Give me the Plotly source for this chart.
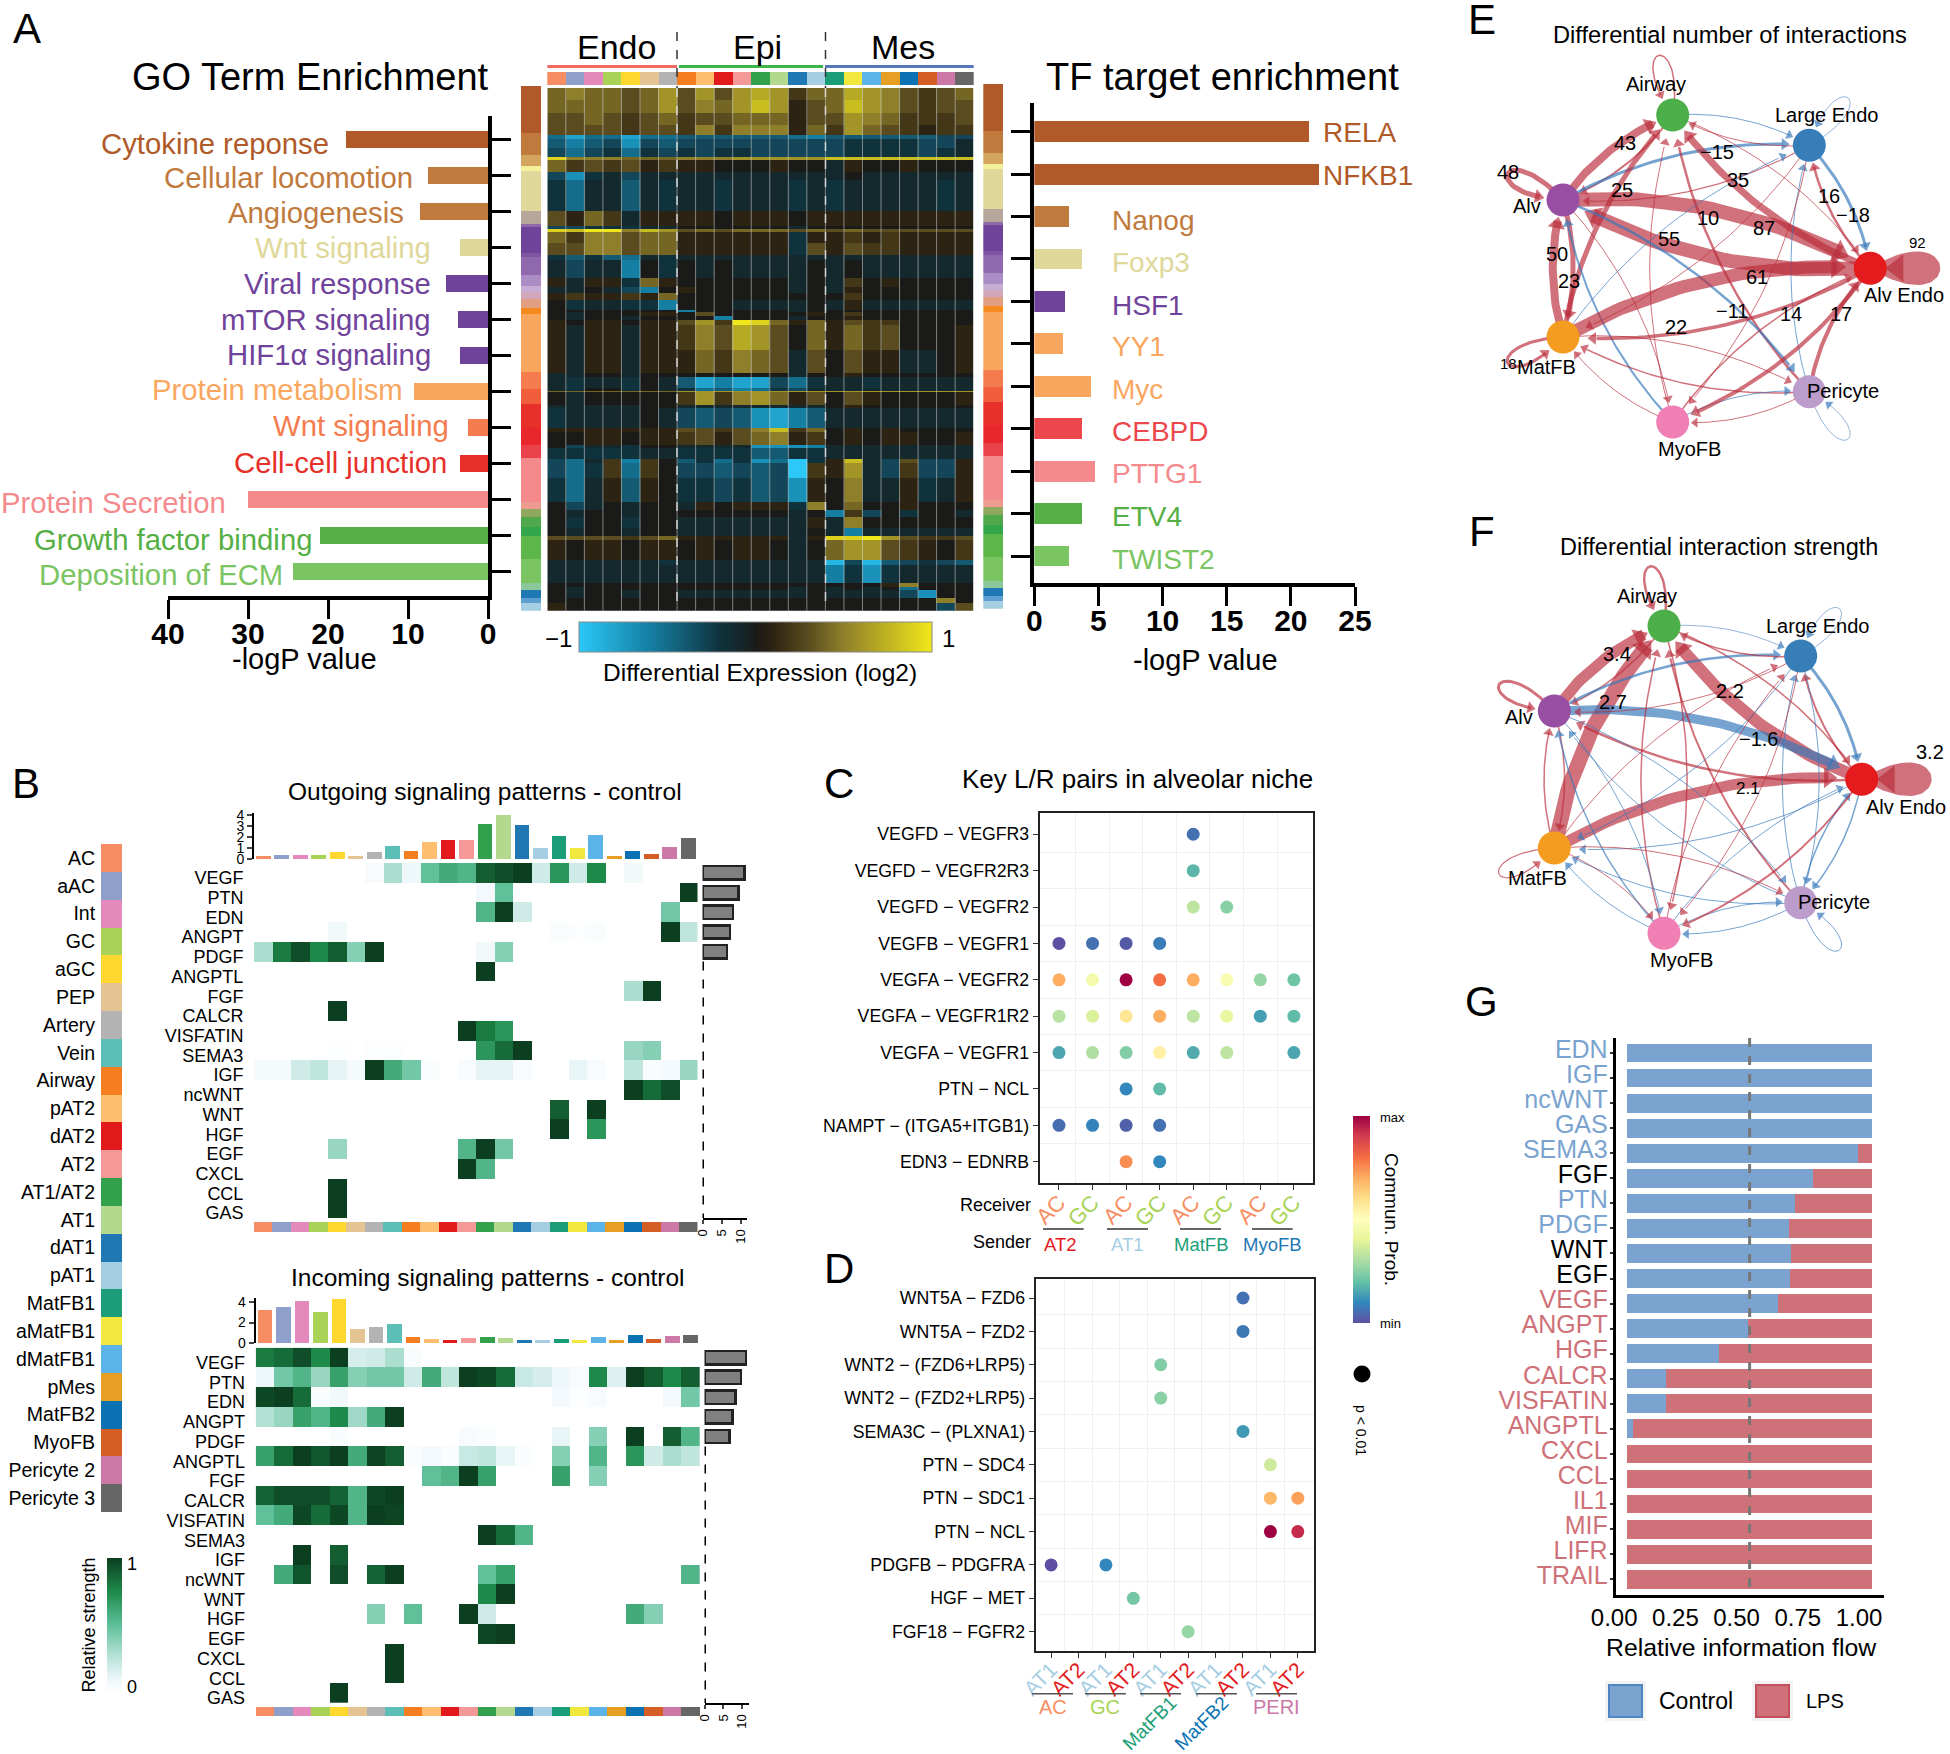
import math
import numpy as np
import plotly.graph_objects as go

W, H = 1950, 1754
FONT = 'Liberation Sans'

# ---------- panel A data ----------
go_terms = ['Cytokine reponse', 'Cellular locomotion', 'Angiogenesis', 'Wnt signaling', 'Viral response',
            'mTOR signaling', 'HIF1α signaling', 'Protein metabolism', 'Wnt signaling', 'Cell-cell junction',
            'Protein Secretion', 'Growth factor binding', 'Deposition of ECM']
go_logp = [17.8, 7.5, 8.5, 3.5, 5.2, 3.7, 3.5, 9.2, 2.5, 3.5, 30, 21, 24.4]
go_colors = ['#AF5A28', '#C07A3E', '#C07A3E', '#E0D89A', '#70439B', '#70439B', '#70439B', '#F9A75F',
             '#F47C4E', '#E8302B', '#F58A8C', '#55AF45', '#7AC562']

tf_names = ['RELA', 'NFKB1', 'Nanog', 'Foxp3', 'HSF1', 'YY1', 'Myc', 'CEBPD', 'PTTG1', 'ETV4', 'TWIST2']
tf_logp = [21.4, 22.2, 2.7, 3.7, 2.4, 2.2, 4.4, 3.7, 4.7, 3.7, 2.7]
tf_colors = ['#AF5A28', '#AF5A28', '#C07A3E', '#E0D89A', '#70439B', '#F9A75F', '#F9A75F', '#EB474C',
             '#F58A8C', '#55AF45', '#7AC562']

cell_types = ['AC', 'aAC', 'Int', 'GC', 'aGC', 'PEP', 'Artery', 'Vein', 'Airway', 'pAT2', 'dAT2', 'AT2',
              'AT1/AT2', 'AT1', 'dAT1', 'pAT1', 'MatFB1', 'aMatFB1', 'dMatFB1', 'pMes', 'MatFB2', 'MyoFB',
              'Pericyte 2', 'Pericyte 3']
cell_colors = ['#F78E63', '#8E9FCB', '#E389BB', '#A8D356', '#FED82F', '#E5C494', '#B3B3B3', '#5BBFB8',
               '#F57F20', '#FDBF6F', '#E31A1C', '#F59898', '#33A14B', '#B2D98E', '#1F78B4', '#A6CEE3',
               '#1B9E77', '#F1E83E', '#5CB3E8', '#E69F22', '#0A72B2', '#D55E27', '#CC79A7', '#666666']
heat_col_colors = cell_colors[:7] + cell_colors[8:]

strip_heights = [46.7, 22.3, 11, 4.7, 40.3, 13, 2.7, 26, 4, 18.3, 11, 5.7, 7.6, 9, 6, 58, 17, 15, 22.4,
                 18.3, 12.7, 44, 7.3, 7.7, 10, 9, 23.6, 23.4, 7.3, 8.3, 5, 7.4]
strip_colors = ['#AF5A28', '#C07A3E', '#D4A55E', '#F5F09A', '#E0D89A', '#B7A79A', '#8F6AA8', '#70439B',
                '#7D55A3', '#9068AE', '#AB8CC4', '#C5ADD6', '#D2A8B8', '#E29E80', '#F68A1F', '#F9A75F',
                '#F47C4E', '#F15E3E', '#E8302B', '#E8272C', '#E9424B', '#F58A8C', '#EE9C90', '#8FA85E',
                '#4FA84B', '#33A54B', '#5CB648', '#7AC562', '#8CC79A', '#1F78B4', '#5C9FD0', '#A6CEE3']

# row bands of the expression heatmap, values in tenths of log2 change
heat_edges = [0, 11.7, 25, 36.7, 46.7, 51, 60, 69.3, 72.3, 84.3, 91.7, 123.3, 138.3, 141, 144.3, 155, 166.7,
              171.7, 190, 199, 205, 212.3, 221.7, 224.3, 228.3, 231.7, 236.7, 262, 285.3, 288.7, 300, 302.7,
              304.3, 317, 320, 340.3, 343.7, 357, 360.3, 371, 375.3, 390.3, 413.7, 422, 428.7, 440.3, 447.7,
              452, 472, 477, 495.3, 498.7, 502, 510.3, 515.3, 522.7]
heat_tenths = [
    [4, 5, 4, 4, 3, 4, 6, 3, 6, 3, 6, 7, 6, 2, 4, 4, 7, 6, 5, 3, 2, 3, 4],
    [4, 4, 4, 4, 3, 4, 6, 3, 5, 4, 6, 8, 6, 1, 3, 4, 8, 6, 5, 3, 2, 3, 3],
    [3, 3, 4, 3, 2, 3, 4, 2, 3, 3, 4, 4, 4, 1, 3, 3, 6, 5, 4, 2, 2, 2, 3],
    [3, 3, 3, 3, 2, 3, 3, 2, 5, 2, 5, 5, 5, 1, 4, 2, 6, 4, 3, 2, 1, 2, 2],
    [-5, -8, -5, -5, -8, -5, -5, -4, -4, -4, -4, -4, -4, -5, -6, -4, -4, -4, -4, -4, -4, -3, -3],
    [-4, -6, -4, -3, -7, -3, -4, -3, -3, -3, -3, -3, -3, -3, -3, -3, -2, -2, -2, -2, -3, -3, -1],
    [-3, -5, -3, -2, -5, -2, -3, -2, -3, -2, -2, -3, -3, -3, -3, -3, -2, -2, -2, -2, -3, -2, -1],
    [9, 5, 5, 5, 4, 4, 4, 5, 5, 5, 6, 6, 6, 6, 6, 8, 8, 8, 8, 8, 8, 8, 8],
    [4, 2, 3, 2, 3, 1, 2, 1, 1, 0, 0, 0, 1, 0, 0, -1, 1, 0, 0, 1, 0, 0, 0],
    [-3, -7, -2, -1, -3, -1, -1, -1, -1, -1, -1, -1, -1, -1, -1, -1, 0, -1, -1, -1, -1, -1, -1],
    [-2, -5, -1, -1, -4, -1, -2, -1, -1, -2, -1, -1, -1, -2, -1, -2, -1, -1, -1, -1, -1, -2, -1],
    [3, 1, 4, 2, -1, 1, 1, 1, 1, 0, 1, 1, 1, 0, 1, 1, 1, 1, 1, 1, 1, 1, 1],
    [-3, -3, -2, -2, -2, -1, -1, 0, 0, 0, 0, 0, 0, -1, 0, 0, 0, 0, 0, 0, 0, 0, 0],
    [9, 8, 10, 10, 5, 8, 6, 3, 4, 3, 4, 4, 4, 3, 4, 3, 4, 3, 3, 3, 3, 3, 3],
    [4, 2, 5, 5, 3, 4, 4, 1, 1, 1, 1, 1, 1, -2, 1, 1, 2, 1, 2, 1, 1, 1, 1],
    [3, 3, 5, 5, 3, 4, 4, 1, 1, 1, 1, 1, 1, -2, 3, 1, 3, 2, 2, 1, 1, 1, 1],
    [-2, -4, -2, -4, -5, -1, -2, -1, -1, -1, -1, -1, -1, -1, -1, -1, -1, -1, -1, -1, -1, -1, -1],
    [-1, -3, -1, -1, -6, 0, -2, 0, -1, 0, -1, -1, -1, -1, 0, -1, 0, -1, -1, -1, -1, -1, -1],
    [1, -1, 1, 1, -2, 4, 1, 0, 0, 0, 0, 0, 0, -1, 0, -1, 2, 0, 1, 0, 0, 0, 0],
    [-1, -1, 0, -1, -3, -6, 0, 1, 0, 0, 0, 0, 0, -1, 0, -1, 1, 0, 0, 0, 0, 0, 0],
    [1, 2, 1, 1, 2, 1, 4, 0, 0, 0, 0, 0, 0, 0, 0, 0, 2, 0, 0, 0, 0, 0, 0],
    [0, -2, -1, -1, -2, -2, -6, 0, 0, 0, -1, -1, -1, -1, 0, -1, 1, -1, -1, -1, -1, -1, -1],
    [0, 0, 0, 0, 0, 0, 0, -6, 0, 0, 0, 0, 0, -1, 0, 0, 0, 0, 0, 0, 0, 0, 0],
    [0, -1, 0, 0, 0, 1, 1, 0, 3, 0, 0, 0, 0, 0, 1, 0, 2, 0, 0, 0, 0, 0, 0],
    [0, -1, 0, 0, -1, 0, 0, 0, 0, -6, 0, 0, 0, -1, 0, 0, 1, 0, 0, 0, 0, 0, 0],
    [1, 0, 1, 1, 0, 1, 1, 3, 6, 2, 10, 9, 4, 1, 4, 1, 3, 2, 2, 0, 0, 0, 0],
    [1, -1, 1, 1, -1, 1, 1, 2, 5, 3, 7, 6, 3, 0, 4, 1, 4, 2, 3, 0, 0, 0, 1],
    [1, -1, 1, 1, -1, 1, 1, 1, 4, 2, 5, 4, 3, -1, 3, 0, 3, 1, 1, -1, -1, 0, 1],
    [-1, -1, 0, 0, -1, 0, 0, 0, 0, 0, 0, 0, 0, -1, 0, 0, 1, 0, 0, 0, 0, 0, 0],
    [-1, -2, -1, -1, -2, 0, -1, -4, -8, -6, -8, -8, -3, -5, -2, -1, -1, -2, -1, -1, -1, -1, -1],
    [-1, -2, 0, 0, -2, 0, -1, -2, -5, -4, -6, -5, -2, -3, -1, -1, -1, -1, -1, -1, -1, -1, -1],
    [4, 4, 4, 4, 4, 4, 4, 6, 6, 6, 6, 6, 6, 6, 6, 6, 6, 6, 6, 6, 6, 6, 6],
    [0, -1, 0, 0, 0, 0, 0, 2, 6, 2, 5, 6, 4, 1, 3, 0, 3, 1, 0, 0, 0, 0, 1],
    [-1, -1, -1, -1, -1, 0, 0, -1, -1, -1, -1, -1, -1, -1, -1, 0, 1, 0, 0, 0, 0, 0, 0],
    [-2, -1, -1, -1, -1, 0, -1, -3, -4, -3, -4, -7, -8, -6, -4, -1, -1, -1, -1, -1, -1, -1, -1],
    [1, 1, 1, 1, 1, 1, 1, 3, 3, 2, 3, 5, 8, 2, 4, 0, 1, 0, 1, 0, 0, 0, 0],
    [0, 0, 1, 1, 0, 1, 1, 2, 3, 1, 3, 4, 5, 1, 2, 0, 1, 0, 1, 1, 0, 0, 1],
    [0, -3, -1, -1, -2, 0, 0, -1, -1, -1, -1, -7, -7, -7, -6, -1, -1, -1, -1, -1, -1, -1, -1],
    [-2, -2, -2, -2, -2, -1, -1, -2, -2, -2, -2, -4, -4, -2, -2, -1, -1, -1, -1, -1, -1, -1, -1],
    [-3, -5, -1, 2, -6, 2, 0, -4, -2, -5, -2, -7, -5, -10, -2, 1, 8, -1, -3, 3, -3, -3, 1],
    [-3, -5, -2, 2, -5, 2, 0, -3, -3, -4, -3, -4, -3, -10, 2, 1, 6, -1, -3, 2, -3, -3, 1],
    [-2, -5, -1, 1, -4, 1, 0, -2, -2, -3, -2, -4, -3, -7, 1, 0, 5, -1, -1, 1, -2, -1, 1],
    [0, -3, -1, 0, -1, 0, 0, -1, 1, 0, 1, 1, 1, -2, 5, 0, 4, 0, 0, 1, 0, 0, 0],
    [0, -1, 0, 0, -1, 0, 0, 0, 0, 0, 0, 0, 0, -1, 0, -6, 2, -3, 0, -2, 0, 0, -1],
    [0, -2, 0, 0, -2, 0, 0, -1, -1, -1, -1, -1, -1, -1, 1, -1, 5, 0, 0, 0, 0, 0, 0],
    [0, -1, 0, 0, -1, 0, 0, -1, -1, -1, -1, -1, -1, -1, 0, -1, -6, -1, -1, -1, -1, -1, -1],
    [3, 3, 3, 3, 2, 3, 4, 1, 1, 1, 1, 1, 1, -1, 1, 9, 9, 10, 6, 3, 2, 2, 3],
    [1, 0, 1, 1, 0, 1, 1, 0, 1, 0, 1, 1, 0, -1, 0, 4, 6, 6, 3, 2, 1, 0, 2],
    [-1, -1, -1, -1, -1, -1, -2, -1, -1, -1, -1, -1, -1, -1, -1, -9, -3, -9, -4, -3, -2, -3, -4],
    [-1, -1, -1, -1, -1, -1, -1, -1, -1, -1, -1, -1, -1, -1, -1, -6, -2, -7, -2, -1, -1, -1, -1],
    [0, 0, 0, 0, 0, 0, 0, 0, 0, 0, 0, 0, 0, 0, 0, 0, 0, 0, 1, 5, 0, 0, 0],
    [0, -1, 0, 0, 0, 0, 0, 0, 0, 0, 0, 0, 0, -1, 0, -1, 0, -1, 0, -5, 0, 0, 0],
    [0, -1, 0, 0, -1, 0, 0, -1, -1, -1, -1, -1, -1, -1, 0, -1, -1, -1, -1, -3, -7, 0, 0],
    [0, 0, 0, 0, 0, 0, 0, 0, 0, 0, 0, 0, 0, 0, 0, 0, 0, 0, 0, 0, 0, 5, 0],
    [1, 0, 0, 0, 0, 0, 0, 0, 0, 0, 0, 0, 0, 0, 0, 0, 0, 0, 0, 0, 0, -3, 3],
]

# ---------- panel B data ----------
pathways = ['VEGF', 'PTN', 'EDN', 'ANGPT', 'PDGF', 'ANGPTL', 'FGF', 'CALCR', 'VISFATIN', 'SEMA3', 'IGF',
            'ncWNT', 'WNT', 'HGF', 'EGF', 'CXCL', 'CCL', 'GAS']
out_top = [.3, .35, .4, .35, .6, .3, .65, 1.15, .7, 1.5, 1.75, 1.7, 3.15, 4.0, 3.1, .95, 2.1, .95, 2.2, .25,
           .7, .45, 1.1, 1.85]
in_top = [3.2, 3.5, 4.1, 3.0, 4.3, 1.4, 1.6, 1.9, .6, .4, .3, .5, .6, .5, .3, .3, .4, .25, .55, .3, .75, .4,
          .65, .75]
out_side = [10.9, 9.4, 7.9, 7.2, 6.4]
in_side = [11, 9.7, 8.2, 7.4, 6.6]
# column index: strength, for each pathway
out_cells = [
    {6: .05, 7: .3, 8: .1, 9: .5, 10: .6, 11: .55, 12: .9, 13: .95, 14: 1, 15: .2, 16: .7, 17: .2, 18: .75, 20: .08},
    {12: .07, 13: .5, 23: 1},
    {12: .55, 13: 1, 14: .2, 22: .45},
    {4: .08, 16: .03, 17: .02, 18: .03, 22: 1, 23: .25},
    {0: .3, 1: .8, 2: .95, 3: .75, 4: .9, 5: .4, 6: 1, 12: .08, 13: .4},
    {12: 1},
    {20: .3, 21: 1},
    {4: 1},
    {11: 1, 12: .8, 13: .7},
    {4: .01, 6: .02, 7: .02, 12: .7, 13: .85, 14: 1, 20: .35, 21: .4},
    {0: .06, 1: .06, 2: .2, 3: .25, 4: .13, 5: .06, 6: 1, 7: .6, 8: .45, 9: .03, 11: .05, 12: .13, 13: .13, 14: .05,
     17: .12, 18: .05, 20: .25, 21: .04, 22: .07, 23: .35},
    {20: 1, 21: .85, 22: .95},
    {16: .9, 18: 1},
    {16: 1, 18: .7},
    {4: .35, 11: .55, 12: 1, 13: .45},
    {11: 1, 12: .55},
    {4: 1},
    {4: 1},
]
in_cells = [
    {0: .8, 1: .85, 2: .95, 3: .75, 4: 1, 5: .18, 6: .2, 7: .3, 8: .04},
    {0: .1, 1: .45, 2: .55, 3: .35, 4: .65, 5: .4, 6: .45, 7: .45, 8: .2, 9: .6, 10: .25, 11: 1, 12: .97, 13: .85,
     14: .22, 15: .18, 16: .1, 17: .05, 18: .75, 19: .15, 20: 1, 21: .9, 22: .75, 23: .9},
    {0: .97, 1: 1, 2: .85, 3: .03, 4: .08, 16: .07, 17: .02, 18: .05, 22: .07, 23: .45},
    {0: .28, 1: .35, 2: .65, 3: .55, 4: .75, 5: .33, 6: .6, 7: 1},
    {4: .04, 11: .05, 12: .03, 16: .12, 18: .4, 20: 1, 22: .9, 23: .55},
    {0: .65, 1: .85, 2: 1, 3: .92, 4: 1, 5: .6, 6: .98, 7: .9, 8: .03, 9: .07, 10: .03, 11: .22, 12: .25, 13: .12,
     14: .03, 16: .4, 18: .55, 20: .7, 21: .2, 22: .3, 23: .25},
    {9: .5, 10: .55, 11: 1, 12: .65, 16: .65, 18: .4},
    {0: .88, 1: .95, 2: .95, 3: .95, 4: .88, 5: .55, 6: .97, 7: 1},
    {0: .5, 1: .6, 2: .97, 3: .85, 4: .97, 5: .55, 6: 1, 7: .98},
    {12: 1, 13: .85, 14: .55},
    {2: 1, 4: .9},
    {1: .6, 2: .93, 4: .95, 6: .88, 7: 1, 12: .5, 13: .65, 23: .55},
    {12: .75, 13: 1},
    {6: .4, 8: .5, 11: 1, 12: .2, 20: .6, 21: .4},
    {12: .97, 13: 1},
    {7: 1},
    {7: 1},
    {4: 1},
]

# ---------- panels C, D data ----------
c_pairs = ['VEGFD − VEGFR3', 'VEGFD − VEGFR2R3', 'VEGFD − VEGFR2', 'VEGFB − VEGFR1', 'VEGFA − VEGFR2',
           'VEGFA − VEGFR1R2', 'VEGFA − VEGFR1', 'PTN − NCL', 'NAMPT − (ITGA5+ITGB1)', 'EDN3 − EDNRB']
c_receivers = ['AC', 'GC', 'AC', 'GC', 'AC', 'GC', 'AC', 'GC']
c_prob = [
    [None, None, None, None, .06, None, None, None],
    [None, None, None, None, .18, None, None, None],
    [None, None, None, None, .33, .25, None, None],
    [0, .06, .02, .08, None, None, None, None],
    [.7, .45, 1, .8, .7, .47, .27, .21],
    [.32, .38, .58, .7, .33, .42, .14, .19],
    [.15, .31, .24, .55, .16, .33, None, .15],
    [None, None, .1, .19, None, None, None, None],
    [.05, .09, .03, .06, None, None, None, None],
    [None, None, .75, .1, None, None, None, None],
]
d_pairs = ['WNT5A − FZD6', 'WNT5A − FZD2', 'WNT2 − (FZD6+LRP5)', 'WNT2 − (FZD2+LRP5)', 'SEMA3C − (PLXNA1)',
           'PTN − SDC4', 'PTN − SDC1', 'PTN − NCL', 'PDGFB − PDGFRA', 'HGF − MET', 'FGF18 − FGFR2']
d_row = [1, 2, 3, 4, 5, 6, 7, 7, 8, 8, 9, 9, 10, 11]
d_col = [8, 8, 5, 5, 8, 9, 9, 10, 9, 10, 1, 3, 4, 6]
d_prob = [.06, .07, .24, .25, .13, .36, .68, .72, 1, .93, 0, .1, .22, .27]
d_senders = ['AT1', 'AT2'] * 5

# ---------- panels E, F data ----------
AIR, LE, AE, PER, MYO, MAT, ALV = range(7)
node_names = ['Airway', 'Large Endo', 'Alv Endo', 'Pericyte', 'MyoFB', 'MatFB', 'Alv']
node_colors = ['#4DAF4A', '#377EB8', '#E41A1C', '#BC9CCB', '#F07FB4', '#F39C1F', '#984EA3']
e_node_x = [232.7, 369.3, 430.3, 369.3, 232.7, 123, 123]
e_node_y = [115, 145.3, 268.3, 391.7, 422, 337, 200]
f_node_x = [224, 360.7, 421.7, 360.7, 224, 114.3, 114.3]
f_node_y = [126, 156, 279.3, 402.7, 433.3, 348, 211]

# from, to, width, sign (+1 up in LPS, -1 down)
e_edges = [
    (ALV, AIR, 8, 1), (AIR, ALV, 2, 1), (ALV, LE, 3, -1), (LE, ALV, 1.2, 1), (ALV, AE, 14, 1), (AE, ALV, 14, 1),
    (MAT, ALV, 8, 1), (ALV, MAT, 5, 1), (MAT, AIR, 5, 1), (AE, AIR, 7, 1), (AIR, AE, 1, 1), (LE, AE, 3, -1),
    (AE, LE, 2.5, 1), (PER, AIR, 2.5, 1), (MYO, AIR, 1, 1), (ALV, MYO, 1, 1), (MYO, ALV, 2, -1), (ALV, PER, 2.5, -1),
    (MAT, PER, 1, 1), (PER, MAT, 1.5, 1), (MYO, MAT, 1, 1), (MYO, PER, 1, -1), (PER, MYO, 1, 1), (PER, LE, 1, -1),
    (PER, AE, 4, 1), (MYO, AE, 1.5, 1), (AE, MYO, 4, 1), (LE, MYO, 1, 1), (LE, MAT, 1, 1), (MAT, LE, 1, -1),
    (AE, MAT, 3.5, 1), (MAT, AE, 13, 1), (AIR, LE, 1, -1), (LE, AIR, 1, 1),
]
e_loops = [(AIR, 1.5, 1), (LE, .8, -1), (AE, 24, 1), (PER, .8, -1), (MAT, 3, 1), (ALV, 5, 1)]
e_labels = [('48', 204, 517, 20), ('43', 555, 428, 20), ('−15', 832, 457, 20), ('25', 545, 570, 20),
            ('35', 893, 540, 20), ('10', 803, 655, 20), ('87', 972, 683, 20), ('55', 687, 716, 20),
            ('16', 1166, 589, 20), ('−18', 1240, 646, 20), ('50', 350, 762, 20), ('23', 387, 843, 20),
            ('61', 950, 830, 20), ('−11', 877, 933, 20), ('14', 1052, 942, 20), ('17', 1203, 942, 20),
            ('22', 707, 981, 20), ('92', 1432, 728, 15), ('18', 205, 1090, 15)]
e_name_pos = [(649, 253), (1158, 344), (1391, 885), (1209, 1172), (749, 1348), (320, 1100), (262, 617)]

f_edges = [
    (ALV, AIR, 11, 1), (AIR, ALV, 1.5, 1), (MAT, AIR, 15, 1), (AE, AIR, 12, 1), (AIR, AE, 1.5, 1), (AE, ALV, 2.5, 1),
    (ALV, AE, 9, -1), (ALV, LE, 2.5, -1), (LE, ALV, 1, 1), (MAT, AE, 11, 1), (AE, MAT, 1, -1), (LE, AE, 3, -1),
    (AE, LE, 2, 1), (AIR, LE, .8, -1), (LE, AIR, 1.5, 1), (MAT, ALV, 1.5, 1), (ALV, MAT, 1.5, 1), (MYO, AIR, 1.5, 1),
    (AIR, MYO, 1.5, 1), (PER, AIR, 2, 1), (ALV, MYO, 1, -1), (MYO, ALV, 1.5, -1), (ALV, PER, 1, -1), (PER, ALV, 1, -1),
    (MAT, PER, 1, 1), (PER, MAT, 1, -1), (MAT, MYO, 1, 1), (MYO, MAT, 1, -1), (MYO, PER, 1, -1), (PER, MYO, 1, -1),
    (LE, PER, 1, -1), (PER, LE, 1, -1), (AE, PER, 1.5, -1), (PER, AE, 1.5, -1), (AE, MYO, 2, 1), (MYO, AE, 1, -1),
    (LE, MYO, 1, 1), (MYO, LE, 1, 1), (LE, MAT, 1, -1), (MAT, LE, 1, 1),
]
f_loops = [(AIR, 2.5, 1), (LE, .8, -1), (AE, 24, 1), (PER, 1, -1), (MAT, 1.2, 1), (ALV, 3, 1)]
f_labels = [('3.4', 530, 462, 20), ('2.7', 520, 605, 20), ('2.2', 870, 573, 20), ('−1.6', 955, 717, 20),
            ('2.1', 923, 866, 17), ('3.2', 1470, 755, 20)]
f_name_pos = [(622, 287), (1132, 377), (1398, 920), (1183, 1205), (723, 1381), (293, 1133), (236, 650)]

# ---------- panel G data ----------
g_pathways = ['EDN', 'IGF', 'ncWNT', 'GAS', 'SEMA3', 'FGF', 'PTN', 'PDGF', 'WNT', 'EGF', 'VEGF', 'ANGPT', 'HGF',
              'CALCR', 'VISFATIN', 'ANGPTL', 'CXCL', 'CCL', 'IL1', 'MIF', 'LIFR', 'TRAIL']
g_control = [1, 1, 1, 1, .941, .757, .687, .659, .67, .666, .618, .495, .375, .157, .158, .022, 0, 0, 0, 0, 0, 0]
g_label_colors = ['#7AA3CF'] * 5 + ['#000000', '#7AA3CF', '#7AA3CF', '#000000', '#000000'] + ['#CF7179'] * 12

BLUE, RED = '#7AA3CF', '#CF7179'
EDGE_RED, EDGE_BLUE = 'rgba(185,45,60,0.68)', 'rgba(55,120,185,0.68)'

fig = go.Figure()
annotations, shapes, axes = [], [], {}
n_axes = 0


def new_axes(x0, x1, y0, y1, xopts=None, yopts=None):
    # domains are given in page pixels, y measured from the top
    global n_axes
    n_axes += 1
    s = '' if n_axes == 1 else str(n_axes)
    base = dict(showgrid=False, zeroline=False, showticklabels=False, ticks='')
    axes['xaxis' + s] = {**base, 'domain': [x0 / W, x1 / W], 'anchor': 'y' + s, **(xopts or {})}
    axes['yaxis' + s] = {**base, 'domain': [1 - y1 / H, 1 - y0 / H], 'anchor': 'x' + s, **(yopts or {})}
    return dict(xaxis='x' + s, yaxis='y' + s)


def text(x, y, s, size, color='#000000', anchor='center', angle=0, **font):
    annotations.append(dict(xref='paper', yref='paper', x=x / W, y=1 - y / H, text=s, showarrow=False,
                            xanchor=anchor, yanchor='middle', textangle=angle,
                            font=dict(size=size, color=color, family=FONT, **font)))


def page_line(x0, y0, x1, y1, color='#000000', width=2, dash='solid'):
    shapes.append(dict(type='line', xref='paper', yref='paper', x0=x0 / W, x1=x1 / W, y0=1 - y0 / H, y1=1 - y1 / H,
                       line=dict(color=color, width=width, dash=dash)))


def color_strip(ax, colors):
    fig.add_trace(go.Bar(x=list(range(len(colors))), y=[1] * len(colors), width=1, marker_color=colors,
                         marker_line_width=0, **ax))


# ---------- A ----------
text(27, 28, 'A', 42)
text(310, 77, 'GO Term Enrichment', 38)
text(1222, 77, 'TF target enrichment', 38)

tick_style = dict(ticks='outside', ticklen=19, tickwidth=3, tickcolor='#000000', showline=True, linewidth=4,
                  linecolor='#000000')
ax = new_axes(168, 488, 116, 596,
              dict(range=[40, 0], tickvals=[0, 10, 20, 30, 40], showticklabels=True, ticklabelstandoff=-11,
                   tickfont=dict(size=30, weight=700), **tick_style),
              dict(range=[12.67, -.658], tickvals=list(range(13)), side='right', **tick_style))
fig.add_trace(go.Bar(x=go_logp, y=list(range(13)), orientation='h', width=.47, marker_color=go_colors,
                     marker_line_width=0, **ax))
go_right = [328.4, 412, 403, 430, 430, 430, 430, 402.4, 448, 446.4, 224.5, 310.6, 282]
go_text_y = [143, 177.7, 213, 248, 283.5, 319, 354, 389, 426, 462, 502, 539, 574.5]
for name, c, xr, yc in zip(go_terms, go_colors, go_right, go_text_y):
    text(xr + 3, yc, name, 29.3, c, anchor='right')
text(304, 659, '-logP value', 29)

ax = new_axes(1034.3, 1355, 103, 583,
              dict(range=[0, 25], tickvals=[0, 5, 10, 15, 20, 25], showticklabels=True, ticklabelstandoff=-11,
                   tickfont=dict(size=30, weight=700), **tick_style),
              dict(range=[10.636, -.676], tickvals=list(range(11)), **tick_style))
fig.add_trace(go.Bar(x=tf_logp, y=list(range(11)), orientation='h', width=.49, marker_color=tf_colors,
                     marker_line_width=0, **ax))
tf_left = [1321, 1321] + [1109.7] * 9
tf_text_y = [132.7, 175, 220, 262.7, 305, 347, 390, 431.7, 474, 516.7, 559]
for name, c, xl, yc in zip(tf_names, tf_colors, tf_left, tf_text_y):
    text(xl, yc, name, 28, c, anchor='left')
text(1205, 660, '-logP value', 29)

# expression heatmap and its colour strips
heat_scale = [[0, '#2BC8F8'], [.2, '#157FA3'], [.3, '#135A72'], [.4, '#10323D'], [.47, '#152526'], [.5, '#1A1A18'],
              [.55, '#2C2313'], [.65, '#5A4C1E'], [.75, '#8F7F2A'], [1, '#F0E81A']]
ax = new_axes(547.3, 973.7, 88, 610.7, dict(range=[0, 23]), dict(range=[522.7, 0]))
fig.add_trace(go.Heatmap(x=list(range(24)), y=heat_edges, z=(np.array(heat_tenths) / 10).tolist(), zmin=-1, zmax=1,
                         colorscale=heat_scale,
                         colorbar=dict(orientation='h', x=579 / W, xanchor='left', y=1 - 653 / H, yanchor='bottom',
                                       len=353, lenmode='pixels', thickness=30, thicknessmode='pixels', xpad=0, ypad=0,
                                       showticklabels=False, ticks='', outlinewidth=1, outlinecolor='#888888'), **ax))
for c in range(1, 23):
    shapes.append(dict(type='line', xref=ax['xaxis'], yref=ax['yaxis'], x0=c, x1=c, y0=0, y1=522.7,
                       line=dict(color='rgba(215,215,215,0.55)', width=1)))

ax = new_axes(521, 541, 86, 610.7, dict(range=[-.5, .5]), dict(range=[524.7, 0]))
fig.add_trace(go.Bar(x=[0] * len(strip_heights), y=strip_heights, base=np.cumsum([0] + strip_heights[:-1]).tolist(),
                     width=1, marker_color=strip_colors, marker_line_width=0, **ax))
ax = new_axes(983.3, 1003.3, 84, 608.7, dict(range=[-.5, .5]), dict(range=[524.7, 0]))
fig.add_trace(go.Bar(x=[0] * len(strip_heights), y=strip_heights, base=np.cumsum([0] + strip_heights[:-1]).tolist(),
                     width=1, marker_color=strip_colors, marker_line_width=0, **ax))
ax = new_axes(547.3, 973.7, 72, 85, dict(range=[-.5, 22.5]), dict(range=[0, 1]))
color_strip(ax, heat_col_colors)

for name, xc in zip(['Endo', 'Epi', 'Mes'], [616, 757, 903]):
    text(xc, 47, name, 34)
page_line(547.3, 66.5, 677, 66.5, '#F26B5E', 3)
page_line(679, 66.5, 823, 66.5, '#3CB54A', 3)
page_line(825, 66.5, 973.7, 66.5, '#5577BB', 3)
for xc in [677, 825.5]:
    page_line(xc, 32, xc, 88, '#333333', 1.5, 'dash')
    page_line(xc, 88, xc, 610, 'rgba(225,225,225,0.9)', 1.5, 'dash')
text(558, 638, '−1', 24)
text(948, 638, '1', 24)
text(760, 673, 'Differential Expression (log2)', 24.5)

# ---------- B ----------
text(26, 783, 'B', 42)
green_scale = [[0, '#FFFFFF'], [.1, '#EEF7FA'], [.25, '#BFE5DD'], [.5, '#5FC09A'], [.75, '#1E8A4A'], [1, '#0B3F1F']]
ax = new_axes(101, 122, 844, 1512,
              dict(range=[-.5, .5]),
              dict(range=[24, 0], tickvals=[i + .5 for i in range(24)], ticktext=cell_types, showticklabels=True,
                   ticks='outside', ticklen=1, tickcolor='rgba(0,0,0,0)', tickfont=dict(size=19.5)))
fig.add_trace(go.Bar(x=[0] * 24, y=[1] * 24, base=list(range(24)), width=1, marker_color=cell_colors,
                     marker_line_width=0, **ax))


def signaling_block(title, title_x, title_y, x0, x1, top_y0, top_y1, top_max, top_ticks, top_vals, rows_y0, rows_y1,
                    strip_y0, strip_y1, cells, side_vals, side_x0, side_x1, side_max, with_scale):
    text(title_x, title_y, title, 24.5)
    # totals above the matrix
    ax = new_axes(x0, x1, top_y0, top_y1,
                  dict(range=[-.5, 23.5]),
                  dict(range=[0, top_max], tickvals=top_ticks, showticklabels=True, showline=True, linewidth=2,
                       linecolor='#000000', ticks='outside', ticklen=5, tickwidth=1.5, tickfont=dict(size=14)))
    fig.add_trace(go.Bar(x=list(range(24)), y=top_vals, width=.8, marker_color=cell_colors, marker_line_width=0, **ax))
    # strength matrix, empty cells stay white
    z = [[row.get(c) for c in range(24)] for row in cells]
    scale = dict(colorbar=dict(x=107 / W, xanchor='left', y=1 - 1693 / H, yanchor='bottom', len=135, lenmode='pixels',
                               thickness=15, thicknessmode='pixels', xpad=0, ypad=0, showticklabels=False, ticks='',
                               outlinewidth=0)) if with_scale else dict(showscale=False)
    ax = new_axes(x0, x1, rows_y0, rows_y1,
                  dict(range=[-.5, 23.5]),
                  dict(range=[17.5, -.5], tickvals=list(range(18)), ticktext=pathways, showticklabels=True,
                       ticks='outside', ticklen=6, tickcolor='rgba(0,0,0,0)', tickfont=dict(size=18), ticklabelshift=-5))
    fig.add_trace(go.Heatmap(x=list(range(24)), y=list(range(18)), z=z, zmin=0, zmax=1,
                             colorscale=green_scale, hoverongaps=False, **scale, **ax))
    ax = new_axes(x0, x1, strip_y0, strip_y1, dict(range=[-.5, 23.5]), dict(range=[0, 1]))
    color_strip(ax, cell_colors)
    # overall strength on the right
    ax = new_axes(side_x0, side_x1, rows_y0, rows_y1,
                  dict(range=[0, side_max], tickvals=[0, 5, 10], showticklabels=True, showline=True, linewidth=2,
                       linecolor='#000000', ticks='outside', ticklen=4, tickwidth=2, tickangle=-90,
                       tickfont=dict(size=13)),
                  dict(range=[17.5, -.5]))
    fig.add_trace(go.Bar(x=side_vals, y=list(range(5)), orientation='h', width=.68, marker_color='#808080',
                         marker_line=dict(color='#222222', width=2.5), **ax))
    shapes.append(dict(type='line', xref=ax['xaxis'], yref=ax['yaxis'], x0=0, x1=0, y0=4.5, y1=17.5,
                       line=dict(color='#000000', width=3, dash='dash')))


signaling_block('Outgoing signaling patterns - control', 485, 792, 254, 697.5, 813, 859, 4.15, [0, 1, 2, 3, 4], out_top,
                863, 1218, 1222, 1232, out_cells, out_side, 702.5, 747, 11.6, True)
signaling_block('Incoming signaling patterns - control', 487.5, 1277, 255.7, 700, 1298, 1343, 4.4, [0, 2, 4], in_top,
                1347.7, 1703, 1707, 1716, in_cells, in_side, 704.5, 749, 11.8, False)
text(88.5, 1625, 'Relative strength', 18, angle=-90)
text(132, 1564, '1', 18)
text(132, 1687, '0', 18)

# ---------- C ----------
text(838.5, 783, 'C', 42)
text(1137.7, 779, 'Key L/R pairs in alveolar niche', 26)
grid = dict(showgrid=True, gridcolor='#F0F0F0', ticks='')
ax = new_axes(1039.7, 1313, 812.7, 1183,
              dict(range=[.425, 8.57], tickvals=list(range(1, 9)),
                   ticktext=[f'<span style="color:{"#F78E63" if r == "AC" else "#A8D356"}">{r}</span>' for r in c_receivers],
                   showticklabels=True, tickangle=-45, tickfont=dict(size=22), ticks='outside', ticklen=5,
                   ticklabelstandoff=-9, tickcolor='#333333', showline=True, mirror=True, linewidth=2,
                   linecolor='#222222', minor=dict(tickvals=[i + .5 for i in range(1, 8)], **grid)),
              dict(range=[10.585, .407], tickvals=list(range(1, 11)), ticktext=c_pairs, showticklabels=True,
                   tickfont=dict(size=17.7), ticks='outside', ticklen=5, tickcolor='#333333', showline=True,
                   mirror=True, linewidth=2, linecolor='#222222',
                   minor=dict(tickvals=[i + .5 for i in range(1, 10)], **grid)))
cx, cy, cv = [], [], []
for i, row in enumerate(c_prob):
    for j, v in enumerate(row):
        if v is not None:
            cx.append(j + 1)
            cy.append(i + 1)
            cv.append(v)
fig.add_trace(go.Scatter(x=cx, y=cy, mode='markers',
                         marker=dict(size=13, color=cv, colorscale='Spectral_r', cmin=0, cmax=1, line_width=0,
                                     showscale=True,
                                     colorbar=dict(x=1353 / W, xanchor='left', y=1 - 1323 / H, yanchor='bottom', len=207,
                                                   lenmode='pixels', thickness=17, thicknessmode='pixels', xpad=0,
                                                   ypad=0, showticklabels=False, ticks='', outlinewidth=0)), **ax))
text(1033, 1205, 'Receiver', 18, anchor='right')
text(1033, 1242, 'Sender', 18, anchor='right')
for x0, x1, name, c in [(1043, 1083.6, 'AT2', '#E31A1C'), (1107, 1148, 'AT1', '#A6CEE3'),
                        (1180, 1221, 'MatFB', '#1B9E77'), (1252, 1292.6, 'MyoFB', '#1F78B4')]:
    page_line(x0, 1229, x1, 1229, '#333333', 1.5)
    text((x0 + x1) / 2 + (-3 if name == 'AT2' else 0), 1244, name, 18.5, c)
text(1378, 1117, 'max', 13, anchor='left')
text(1378, 1323, 'min', 13, anchor='left')
text(1392, 1219, 'Commun. Prob.', 19, angle=90)
text(1361, 1430, 'p &lt; 0.01', 14, angle=90)

# ---------- D ----------
text(839, 1268, 'D', 42)
ax = new_axes(1035.7, 1313.6, 1279, 1651,
              dict(range=[.438, 10.576], tickvals=list(range(1, 11)),
                   ticktext=[f'<span style="color:{"#A6CEE3" if s == "AT1" else "#E31A1C"}">{s}</span>' for s in d_senders],
                   showticklabels=True, tickangle=-45, tickfont=dict(size=21), ticks='outside', ticklen=5,
                   ticklabelstandoff=-9, tickcolor='#333333', showline=True, mirror=True, linewidth=2,
                   linecolor='#222222', minor=dict(tickvals=[i + .5 for i in range(1, 10)], **grid)),
              dict(range=[11.58, .43], tickvals=list(range(1, 12)), ticktext=d_pairs, showticklabels=True,
                   tickfont=dict(size=17.7), ticks='outside', ticklen=5, tickcolor='#333333', showline=True,
                   mirror=True, linewidth=2, linecolor='#222222',
                   minor=dict(tickvals=[i + .5 for i in range(1, 11)], **grid)))
fig.add_trace(go.Scatter(x=d_col, y=d_row, mode='markers',
                         marker=dict(size=13, color=d_prob, colorscale='Spectral_r', cmin=0, cmax=1, line_width=0), **ax))
# black p-value dot of the legend
ax_dot = new_axes(1350, 1374, 1362, 1386, dict(range=[0, 1]), dict(range=[0, 1]))
fig.add_trace(go.Scatter(x=[.5], y=[.5], mode='markers', marker=dict(size=17, color='#000000'), **ax_dot))
for x0, x1 in [(1032, 1073), (1085, 1126), (1140, 1181), (1196, 1237), (1256, 1297)]:
    page_line(x0, 1693.7, x1, 1693.7, '#555555', 1.5)
text(1052.7, 1707, 'AC', 20, '#F78E63')
text(1105, 1707, 'GC', 20, '#A8D356')
text(1276, 1707, 'PERI', 20, '#CC79A7')
text(1149, 1723, 'MatFB1', 19, '#1B9E77', angle=-45)
text(1201, 1723, 'MatFB2', 19, '#0A72B2', angle=-45)


# ---------- E, F ----------
def bezier_path(p0, p1, bend=.15, n=40):
    dx, dy = p1[0] - p0[0], p1[1] - p0[1]
    cx, cy = (p0[0] + p1[0]) / 2 + dy * bend, (p0[1] + p1[1]) / 2 - dx * bend
    t = np.linspace(0, 1, n)
    return (1 - t) ** 2 * p0[0] + 2 * t * (1 - t) * cx + t ** 2 * p1[0], (1 - t) ** 2 * p0[1] + 2 * t * (1 - t) * cy + t ** 2 * p1[1]


def loop_path(p, direction, reach, spread=22, n=50):
    a = math.radians(spread)
    ca, sa = math.cos(a), math.sin(a)
    c1 = (p[0] + reach * (direction[0] * ca - direction[1] * sa), p[1] + reach * (direction[0] * sa + direction[1] * ca))
    c2 = (p[0] + reach * (direction[0] * ca + direction[1] * sa), p[1] + reach * (-direction[0] * sa + direction[1] * ca))
    t = np.linspace(0, 1, n)
    mt = 3 * t * (1 - t)
    return (p[0] * ((1 - t) ** 3 + t ** 3) + c1[0] * mt * (1 - t) + c2[0] * mt * t,
            p[1] * ((1 - t) ** 3 + t ** 3) + c1[1] * mt * (1 - t) + c2[1] * mt * t)


def arrow_head(ax, x, y, hx, hy, size, color):
    fig.add_trace(go.Scatter(x=[x], y=[y], mode='markers',
                             marker=dict(symbol='triangle-up', size=size, color=color, line_width=0,
                                         angle=math.degrees(math.atan2(hx, -hy))), hoverinfo='skip', **ax))


def draw_path(ax, px, py, target, width, color, radius=17):
    # stop the curve at the rim of the target node and put the arrow head there
    dist = np.hypot(px - target[0], py - target[1])
    last = len(px) - 1
    while last > 1 and dist[last] < radius + 1:
        last -= 1
    size = min(8 + .9 * width, 26)
    hx, hy = px[last] - px[last - 2], py[last] - py[last - 2]
    norm = math.hypot(hx, hy) or 1
    hx, hy = hx / norm, hy / norm
    fig.add_trace(go.Scatter(x=px[:last].tolist(), y=py[:last].tolist(), mode='lines',
                             line=dict(color=color, width=width), hoverinfo='skip', **ax))
    arrow_head(ax, px[last] - hx * size * .45, py[last] - hy * size * .45, hx, hy, size, color)


def network(title, title_x, title_y, page_y, node_x, node_y, edges, loops, labels, name_pos, title_size):
    text(title_x, title_y, title, title_size)
    ax = new_axes(1440, 1950, page_y, page_y + 490, dict(range=[0, 510]), dict(range=[490, 0]))
    for a, b, w, sign in edges:
        px, py = bezier_path((node_x[a], node_y[a]), (node_x[b], node_y[b]))
        draw_path(ax, px, py, (node_x[b], node_y[b]), w, EDGE_RED if sign > 0 else EDGE_BLUE)
    cx, cy = sum(node_x) / 7, sum(node_y) / 7
    for a, w, sign in loops:
        d = math.hypot(node_x[a] - cx, node_y[a] - cy)
        direction = ((node_x[a] - cx) / d, (node_y[a] - cy) / d)
        color = EDGE_RED if sign > 0 else EDGE_BLUE
        if w > 10:
            # the heaviest self loop closes up into a filled drop
            px, py = loop_path((node_x[a], node_y[a]), direction, 110, spread=32)
            fig.add_trace(go.Scatter(x=px.tolist(), y=py.tolist(), mode='lines', fill='toself', fillcolor=color,
                                     line_width=0, hoverinfo='skip', **ax))
            arrow_head(ax, node_x[a] + direction[0] * 27, node_y[a] + direction[1] * 27, -direction[0], -direction[1],
                       24, color)
        else:
            px, py = loop_path((node_x[a], node_y[a]), direction, 88)
            draw_path(ax, px, py, (node_x[a], node_y[a]), w, color)
    fig.add_trace(go.Scatter(x=node_x, y=node_y, mode='markers', marker=dict(size=33, color=node_colors, line_width=0), **ax))
    for s, lx, ly, size in labels:
        text(1440 + lx / 3, page_y + ly / 3, s, size)
    for s, (lx, ly) in zip(node_names, name_pos):
        text(1440 + lx / 3, page_y + ly / 3, s, 20)


text(1482, 19, 'E', 42)
network('Differential number of interactions', 1729.5, 35, 0, e_node_x, e_node_y, e_edges, e_loops, e_labels, e_name_pos, 23.7)
text(1481.7, 531.7, 'F', 42)
network('Differential interaction strength', 1719, 546.7, 500, f_node_x, f_node_y, f_edges, f_loops, f_labels, f_name_pos, 23.5)

# ---------- G ----------
text(1481.7, 1002, 'G', 42)
ax = new_axes(1615.7, 1884, 1038, 1594.5,
              dict(range=[-.047, 1.049], tickvals=[0, .25, .5, .75, 1], ticktext=['0.00', '0.25', '0.50', '0.75', '1.00'],
                   showticklabels=True, tickfont=dict(size=24), showline=True, linewidth=3, linecolor='#000000',
                   ticklabelshift=-13),
              dict(range=[21.61, -.6], tickvals=list(range(22)), showticklabels=True,
                   ticktext=[f'<span style="color:{c}">{p}</span>' for p, c in zip(g_pathways, g_label_colors)],
                   tickfont=dict(size=25), ticks='outside', ticklen=3, tickwidth=2, tickcolor='#333333', showline=True,
                   linewidth=3, linecolor='#000000', ticklabelshift=4, ticklabelstandoff=-3))
fig.add_trace(go.Bar(y=list(range(22)), x=g_control, orientation='h', width=.75, marker_color=BLUE, marker_line_width=0, **ax))
fig.add_trace(go.Bar(y=list(range(22)), x=[round(1 - v, 3) for v in g_control], orientation='h', width=.75,
                     marker_color=RED, marker_line_width=0, **ax))
shapes.append(dict(type='line', xref=ax['xaxis'], yref=ax['yaxis'], x0=.5, x1=.5, y0=-.6, y1=21.61,
                   line=dict(color='#777777', width=3, dash='dash')))
text(1740.7, 1647, 'Relative information flow', 24.8)
for x0, x1, fill, edge in [(1609, 1642, BLUE, '#4E86C4'), (1756, 1789, RED, '#C44E5C')]:
    shapes.append(dict(type='rect', xref='paper', yref='paper', x0=(x0 - 4) / W, x1=(x1 + 4) / W, y0=1 - 1721 / H,
                       y1=1 - 1681 / H, fillcolor='#F3F3F3', line_width=0))
    shapes.append(dict(type='rect', xref='paper', yref='paper', x0=x0 / W, x1=x1 / W, y0=1 - 1717 / H, y1=1 - 1685 / H,
                       fillcolor=fill, line=dict(color=edge, width=2)))
text(1657, 1700.6, 'Control', 23, anchor='left')
text(1803.7, 1700.6, 'LPS', 20, anchor='left')

fig.update_layout(width=W, height=H, margin=dict(l=0, r=0, t=0, b=0, pad=0, autoexpand=False), paper_bgcolor='white',
                  plot_bgcolor='white', font=dict(family=FONT, color='#000000'), showlegend=False, barmode='stack',
                  annotations=annotations, shapes=shapes, **axes)
fig.write_html('out.html', post_script="document.body.style.margin='0';", config=dict(displayModeBar=False))
